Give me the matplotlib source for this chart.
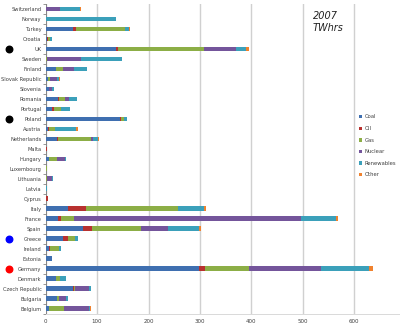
import matplotlib
matplotlib.use("Agg")
import matplotlib.pyplot as plt
from matplotlib.transforms import blended_transform_factory
import numpy as np

countries = ["Belgium", "Bulgaria", "Czech Republic", "Denmark", "Germany", "Estonia",
             "Ireland", "Greece", "Spain", "France", "Italy", "Cyprus", "Latvia",
             "Lithuania", "Luxembourg", "Hungary", "Malta", "Netherlands", "Austria",
             "Poland", "Portugal", "Romania", "Slovenia", "Slovak Republic", "Finland",
             "Sweden", "UK", "Croatia", "Turkey", "Norway", "Switzerland"]

coal =       [6.5, 22.5, 54, 20, 298, 12, 7, 34.5, 73, 23.5, 43, 0, 0, 0, 0, 6, 0, 23, 5, 145, 13, 25, 6, 4, 20, 1, 137, 3, 53, 0, 0]
oil =        [0.5, 0, 0.5, 1, 12, 0, 2, 8.5, 18, 6.5, 35.5, 4.5, 0, 0, 0, 1, 2.3, 2, 2, 2, 3, 1, 0.5, 1, 1, 0, 4, 2, 6, 0, 0]
gas =        [28, 3, 3, 7, 85, 0, 17, 15, 94, 25, 178, 0, 0.5, 3, 3, 16, 0, 63, 12, 4.5, 14, 11, 1, 3, 12, 2, 166, 3, 96, 1, 0]
nuclear =    [49, 15, 27, 0, 140, 0, 0, 0, 53, 441, 0, 0, 0, 10, 0, 15, 0, 4, 0, 0, 0, 8, 5, 14, 22, 66, 63, 0, 0, 0, 28]
renewables = [3, 3, 3, 11, 94, 0.5, 3, 5, 61, 68, 51, 0, 3, 1, 0.5, 2, 0, 10, 41, 6, 17, 16, 3.5, 5, 25, 79, 19, 5, 8, 136, 38]
other =      [2, 0.5, 0.5, 0.5, 7, 0, 0, 0, 3, 5, 5, 0, 0, 0, 0, 0.5, 0, 2, 3, 1, 1, 0.5, 0, 1, 1, 1, 6, 0, 1.5, 0, 2]

series_names = ["Coal", "Oil", "Gas", "Nuclear", "Renewables", "Other"]
series = [coal, oil, gas, nuclear, renewables, other]
colors = ["#3F6FB0", "#B8312F", "#8CAE46", "#74559B", "#3BA0BA", "#F0822E"]
x_ticks = [0, 100, 200, 300, 400, 500, 600]

marked = {"UK": "black", "Poland": "black", "Greece": "#0000ff", "Germany": "#ff0000"}

W, H = 400, 330
fig = plt.figure(figsize=(W / 100, H / 100), dpi=100)
fig.patch.set_facecolor("white")

x0_px, px_per_unit = 45.6, 0.5145
xmax = 700
top_px, bot_px = 4, 313.5
ax = fig.add_axes([x0_px / W, 1 - bot_px / H, xmax * px_per_unit / W, (bot_px - top_px) / H])

y = np.arange(len(countries))
left = np.zeros(len(countries))
for name, vals, c in zip(series_names, series, colors):
    v = np.array(vals, dtype=float)
    ax.barh(y, v, left=left, height=0.45, color=c, label=name, zorder=3)
    left += v

ax.set_xlim(0, xmax)
ax.set_ylim(-0.5, len(countries) - 0.5)
ax.set_xticks(x_ticks)
ax.set_xticklabels([str(v) for v in x_ticks], fontsize=4, color="#404040")
ax.set_yticks(y)
ax.set_yticklabels(countries, fontsize=3.7, color="#404040")
ax.tick_params(axis="y", length=0, pad=3)
ax.tick_params(axis="x", length=0, pad=4)
ax.set_yticks(np.arange(-0.5, len(countries), 1), minor=True)
ax.tick_params(axis="y", which="minor", length=2.5, color="#868686", width=0.6)
ax.grid(axis="x", color="#d0d0d0", linewidth=1.0, zorder=0)
for s in ["top", "right"]:
    ax.spines[s].set_visible(False)
ax.spines["left"].set_color("#868686")
ax.spines["left"].set_linewidth(0.7)
ax.spines["bottom"].set_color("#d9d9d9")
ax.spines["bottom"].set_linewidth(0.7)

trans = blended_transform_factory(fig.transFigure, ax.transData)
for cname, col in marked.items():
    ax.scatter([9 / W], [countries.index(cname)], s=22, color=col, transform=trans,
               clip_on=False, zorder=5)

fig.text(313 / W, 1 - 11 / H, "2007\nTWhrs", fontsize=7, style="italic",
         color="#222222", va="top", ha="left", linespacing=1.3)

handles, labels = ax.get_legend_handles_labels()
leg = fig.legend(handles, labels, loc="upper left", bbox_to_anchor=(358.5 / W, 1 - 114.5 / H),
                 fontsize=3.8, frameon=False, handlelength=0.6, handleheight=0.6,
                 handletextpad=0.5, labelspacing=1.25, borderaxespad=0, borderpad=0)
for t in leg.get_texts():
    t.set_color("#404040")

fig.savefig("out.png", dpi=100, facecolor="white")
